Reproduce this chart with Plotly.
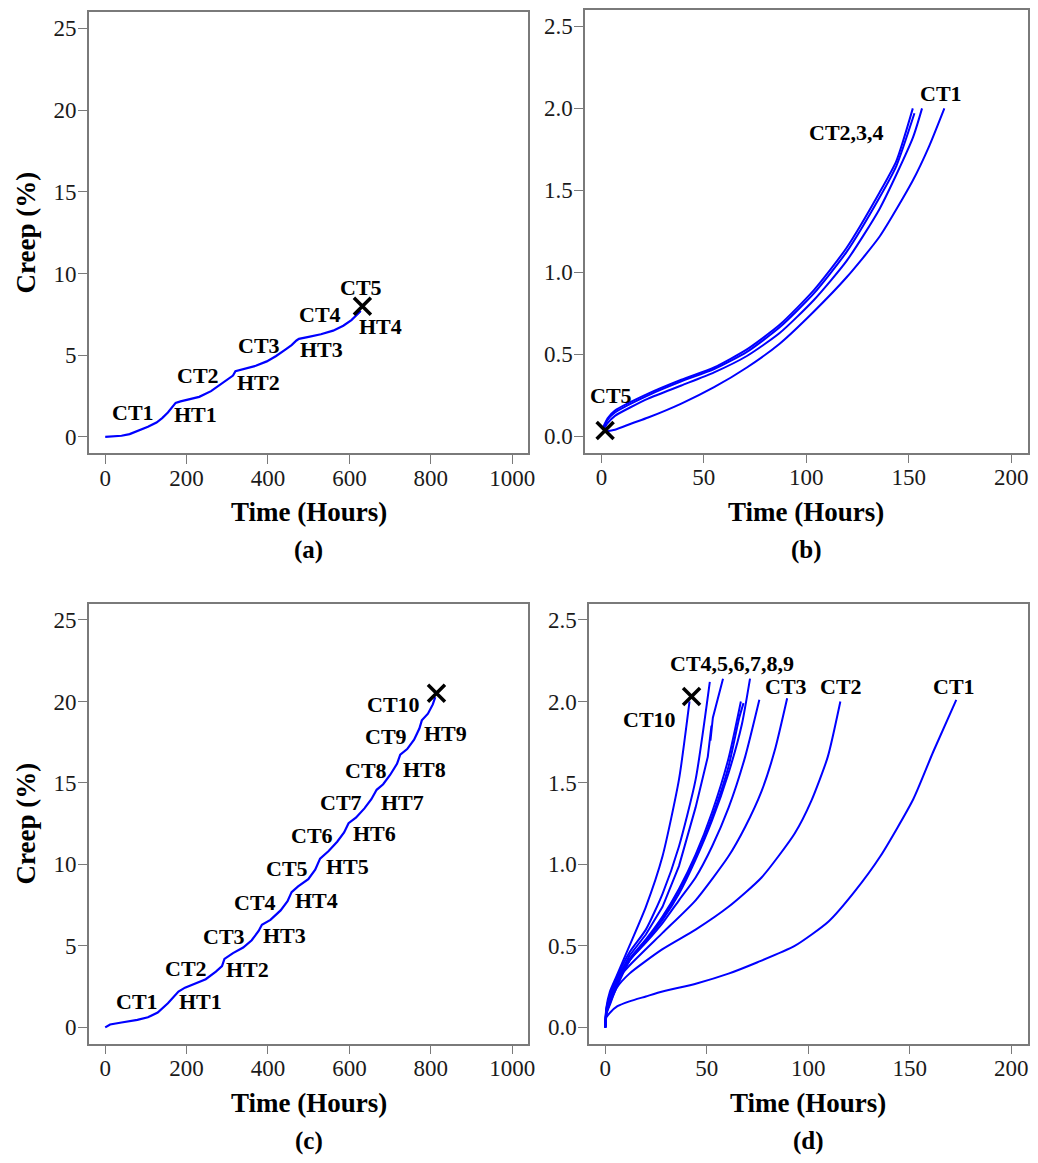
import plotly.graph_objects as go

# ---------------- data ----------------
# Panel (a): interrupted creep with heat treatments (one line)
A_TIME = [0, 20, 40, 60, 85, 105, 126, 140, 154, 166, 173, 185, 200, 231, 260, 285, 305, 314, 320,
          345, 370, 397, 420, 440, 458, 470, 476, 500, 530, 560, 585, 605, 618, 628]
A_CREEP = [0, 0.02, 0.07, 0.17, 0.41, 0.62, 0.88, 1.15, 1.49, 1.85, 2.08, 2.17, 2.26, 2.45, 2.8, 3.25,
           3.6, 3.75, 4.02, 4.2, 4.35, 4.62, 4.95, 5.3, 5.62, 5.9, 6.0, 6.12, 6.28, 6.5, 6.8, 7.15, 7.45, 7.7]
A_FAIL = (632, 8.0)
A_LABELS = ["CT1", "HT1", "CT2", "HT2", "CT3", "HT3", "CT4", "HT4", "CT5"]
A_LABEL_POS = [(69, 1.5), (223, 1.4), (228, 3.75), (377, 3.35), (377, 5.6), (532, 5.35),
               (528, 7.5), (677, 6.75), (628, 9.15)]

# Panel (b): individual creep tests of (a)
B_CT1_T = [1.8, 6.6, 15, 22.8, 39, 55, 71, 87, 103.6, 119.7, 135.9, 152, 160, 167.4]
B_CT1_C = [0.03, 0.04, 0.08, 0.115, 0.2, 0.3, 0.42, 0.565, 0.76, 0.97, 1.22, 1.56, 1.77, 2.0]
B_CT2_T = [1, 3, 6.6, 22.8, 39, 55, 71, 87, 103.6, 119.7, 135.9, 144, 152]
B_CT2_C = [0.06, 0.11, 0.157, 0.26, 0.345, 0.42, 0.53, 0.68, 0.89, 1.15, 1.49, 1.68, 2.0]
B_CT3_T = [1, 3, 6.6, 22.8, 39, 55, 71, 87, 103.6, 119.7, 135.9, 144, 152.8]
B_CT3_C = [0.05, 0.1, 0.145, 0.25, 0.335, 0.41, 0.515, 0.665, 0.87, 1.125, 1.46, 1.65, 1.97]
B_CT4_T = [1, 3, 6.6, 22.8, 39, 55, 71, 87, 103.6, 119.7, 135.9, 152, 156.5]
B_CT4_C = [0.04, 0.08, 0.125, 0.23, 0.31, 0.39, 0.49, 0.63, 0.83, 1.07, 1.39, 1.82, 2.0]
B_FAIL = (1.8, 0.035)
B_LABELS = ["CT1", "CT2,3,4", "CT5"]
B_LABEL_POS = [(166, 2.09), (119.7, 1.85), (4.7, 0.25)]

# Panel (c): interrupted creep, second specimen
C_TIME = [0, 12, 40, 79, 105, 129, 154, 170, 180, 196, 213, 247, 272, 287, 293, 314, 339, 360, 377,
          385, 406, 431, 448, 458, 474, 499, 516, 528, 549, 570, 587, 598, 616, 637, 654, 667, 683,
          700, 717, 725, 742, 759, 772, 778, 793, 805, 811]
C_CREEP = [0, 0.18, 0.3, 0.46, 0.62, 0.91, 1.48, 1.9, 2.2, 2.44, 2.62, 2.96, 3.42, 3.76, 4.2, 4.56,
           4.9, 5.35, 5.92, 6.3, 6.6, 7.18, 7.74, 8.3, 8.65, 9.1, 9.68, 10.36, 10.82, 11.39, 11.96,
           12.53, 12.87, 13.44, 14.0, 14.58, 14.92, 15.49, 16.17, 16.74, 17.08, 17.65, 18.34, 18.84,
           19.25, 19.82, 20.27]
C_FAIL = (814, 20.5)
C_LABELS = ["CT1", "HT1", "CT2", "HT2", "CT3", "HT3", "CT4", "HT4", "CT5", "HT5",
            "CT6", "HT6", "CT7", "HT7", "CT8", "HT8", "CT9", "HT9", "CT10"]
C_LABEL_POS = [(79, 1.59), (234, 1.59), (199, 3.64), (349, 3.58), (293, 5.58), (440, 5.65),
               (369, 7.68), (520, 7.81), (446, 9.73), (595, 9.86), (509, 11.78), (661, 11.89),
               (579, 13.83), (730, 13.83), (640, 15.79), (784, 15.83), (690, 17.88), (835, 18.06),
               (709, 19.8)]

# Panel (d): individual creep tests of (c)
D_SERIES = {
    "CT1": ([0, 0.5, 2.3, 6, 11.9, 20, 28.2, 45, 60.7, 75, 93.3, 110, 122.6, 135.5, 151.7, 161.5, 172.9],
            [0, 0.06, 0.09, 0.13, 0.16, 0.19, 0.22, 0.27, 0.33, 0.40, 0.50, 0.65, 0.83, 1.05, 1.40, 1.69, 2.01]),
    "CT2": ([0, 0.5, 2.3, 5.5, 11.9, 28.2, 44.5, 60.7, 77, 93.3, 101.5, 109.6, 115.8],
            [0, 0.08, 0.14, 0.24, 0.33, 0.48, 0.60, 0.74, 0.92, 1.19, 1.39, 1.66, 2.0]),
    "CT3": ([0, 0.5, 2.3, 5, 11.9, 28.2, 44.5, 60.7, 68.9, 77, 83.5, 89.6],
            [0, 0.1, 0.18, 0.28, 0.38, 0.58, 0.78, 1.05, 1.23, 1.45, 1.70, 2.02]),
    "CT4": ([0, 0.5, 2.3, 5.4, 11.9, 20, 28.2, 36.3, 44.5, 51.5],
            [0, 0.11, 0.2, 0.3, 0.46, 0.6, 0.82, 1.11, 1.52, 2.12]),
    "CT5": ([0, 0.5, 2.3, 5.4, 11.9, 20, 28.2, 36.3, 44.5, 50.5, 52.3, 51.8, 53, 55.5, 58],
            [0, 0.1, 0.19, 0.29, 0.44, 0.57, 0.74, 0.99, 1.35, 1.66, 1.85, 1.76, 1.90, 2.02, 2.14]),
    "CT6": ([0, 0.5, 2.3, 5.4, 11.9, 20, 28.2, 36.3, 44.5, 52.6, 60.7, 66.8],
            [0, 0.09, 0.18, 0.27, 0.42, 0.54, 0.68, 0.85, 1.06, 1.32, 1.65, 2.0]),
    "CT7": ([0, 0.5, 2.3, 5.4, 11.9, 20, 28.2, 36.3, 44.5, 52.6, 60.7, 66, 68.1],
            [0, 0.09, 0.17, 0.26, 0.41, 0.53, 0.67, 0.84, 1.04, 1.29, 1.60, 1.9, 1.99]),
    "CT8": ([0, 0.5, 2.3, 5.4, 11.9, 20, 28.2, 36.3, 44.5, 52.6, 60.7, 67.3, 71.3],
            [0, 0.09, 0.17, 0.26, 0.41, 0.53, 0.66, 0.82, 1.03, 1.27, 1.56, 1.86, 2.14]),
    "CT9": ([0, 0.5, 2.3, 5.4, 11.9, 20, 28.2, 36.3, 44.5, 52.6, 60.8, 68.9, 75.9],
            [0, 0.08, 0.15, 0.24, 0.41, 0.52, 0.64, 0.78, 0.92, 1.11, 1.35, 1.66, 2.01]),
    "CT10": ([0, 0.5, 2.3, 5.4, 11.9, 20, 28.2, 36.3, 41.5],
             [0, 0.12, 0.22, 0.31, 0.5, 0.74, 1.05, 1.52, 2.0]),
}
D_FAIL = (42.5, 2.03)
D_LABELS = ["CT4,5,6,7,8,9", "CT3", "CT2", "CT1", "CT10"]
D_LABEL_POS = [(62.4, 2.23), (88.8, 2.09), (116, 2.09), (171.6, 2.09), (21.7, 1.89)]

A_XTICKS = [0, 200, 400, 600, 800, 1000]
A_YTICKS = [0, 5, 10, 15, 20, 25]
B_XTICKS = [0, 50, 100, 150, 200]
B_YTICKS = [0.0, 0.5, 1.0, 1.5, 2.0, 2.5]
PANEL_TAGS = ["(a)", "(b)", "(c)", "(d)"]

# ---------------- figure ----------------
OFF = 8                      # page body margin
W, H = 1038 - OFF, 1163 - OFF
FONT = "Liberation Serif"
BLUE = "#0000ff"


def clamp(v):
    return min(1.0, max(0.0, v))


def px_x(p):
    return clamp((p - OFF) / W)


def px_y(p):
    return clamp(1 - (p - OFF) / H)


fig = go.Figure()

# panel pixel boxes in screenshot coords: (left, right, top, bottom)
boxes = {
    "a": (89.5, 532, 10, 452),
    "b": (589, 1034.5, 8, 451.5),
    "c": (89.5, 532, 602.7, 1043.5),
    "d": (593, 1034.5, 602.7, 1043.5),
}
axis_ids = {"a": ("x", "y"), "b": ("x2", "y2"), "c": ("x3", "y3"), "d": ("x4", "y4")}


def line(xs, ys, panel, width=2.2, shape="linear"):
    xa, ya = axis_ids[panel]
    fig.add_trace(go.Scatter(x=xs, y=ys, mode="lines", xaxis=xa, yaxis=ya,
                             line=dict(color=BLUE, width=width, shape=shape, smoothing=0.6),
                             showlegend=False, hoverinfo="skip"))


def fail(pt, panel):
    xa, ya = axis_ids[panel]
    fig.add_trace(go.Scatter(x=[pt[0]], y=[pt[1]], mode="markers", xaxis=xa, yaxis=ya,
                             marker=dict(symbol="x-thin", size=17,
                                         line=dict(color="black", width=3.5)),
                             showlegend=False, hoverinfo="skip"))


line(A_TIME, A_CREEP, "a")
fail(A_FAIL, "a")
for t, c in [(B_CT1_T, B_CT1_C), (B_CT2_T, B_CT2_C), (B_CT3_T, B_CT3_C), (B_CT4_T, B_CT4_C)]:
    line(t, c, "b", 2, "spline")
fail(B_FAIL, "b")
line(C_TIME, C_CREEP, "c")
fail(C_FAIL, "c")
for name, (t, c) in D_SERIES.items():
    line(t, c, "d", 2, "linear" if name == "CT5" else "spline")
fail(D_FAIL, "d")

annotations = []


def label(text, pos, panel, size=22):
    xa, ya = axis_ids[panel]
    annotations.append(dict(x=pos[0], y=pos[1], xref=xa, yref=ya, text=text, showarrow=False,
                            xanchor="center", yanchor="middle",
                            font=dict(family=FONT, size=size, color="black", weight="bold")))


for txt, pos in zip(A_LABELS, A_LABEL_POS):
    label(txt, pos, "a")
for txt, pos in zip(B_LABELS, B_LABEL_POS):
    label(txt, pos, "b")
for txt, pos in zip(C_LABELS, C_LABEL_POS):
    label(txt, pos, "c")
for txt, pos in zip(D_LABELS, D_LABEL_POS):
    label(txt, pos, "d")

# axis titles and panel tags (paper coords)
for key, tag in zip(["a", "b", "c", "d"], PANEL_TAGS):
    l, r, t, b = boxes[key]
    cx = (l + r) / 2
    annotations.append(dict(x=px_x(cx), y=px_y(b + 59), xref="paper", yref="paper",
                            xanchor="center", yanchor="middle",
                            text="Time (Hours)", showarrow=False,
                            font=dict(family=FONT, size=27, color="black", weight="bold")))
    annotations.append(dict(x=px_x(cx), y=px_y(b + 97), xref="paper", yref="paper",
                            xanchor="center", yanchor="middle",
                            text=tag, showarrow=False,
                            font=dict(family=FONT, size=25, color="black", weight="bold")))
for key in ["a", "c"]:
    l, r, t, b = boxes[key]
    annotations.append(dict(x=px_x(26), y=px_y((t + b) / 2), xref="paper", yref="paper",
                            xanchor="center", yanchor="middle",
                            text="Creep (%)", showarrow=False, textangle=-90,
                            font=dict(family=FONT, size=27, color="black", weight="bold")))

axis_common = dict(showline=True, mirror=True, linecolor="#7a7a7a", linewidth=1.5,
                   ticks="outside", ticklen=9, tickcolor="#7a7a7a", tickwidth=1.2,
                   showgrid=False, zeroline=False,
                   tickfont=dict(family=FONT, size=23, color="#1a1a1a"))

layout = dict(width=W, height=H, margin=dict(l=0, r=0, t=0, b=0),
              paper_bgcolor="white", plot_bgcolor="white", annotations=annotations)

ranges = {
    "a": ([-40, 1040], [-1, 26], A_XTICKS, A_YTICKS, None),
    "b": ([-8, 208], [-0.1, 2.6], B_XTICKS, B_YTICKS, ".1f"),
    "c": ([-40, 1040], [-1, 26], A_XTICKS, A_YTICKS, None),
    "d": ([-8, 208], [-0.1, 2.6], B_XTICKS, B_YTICKS, ".1f"),
}
for i, key in enumerate(["a", "b", "c", "d"]):
    l, r, t, b = boxes[key]
    xr, yr, xt, yt, fmt = ranges[key]
    xname = "xaxis" if i == 0 else f"xaxis{i + 1}"
    yname = "yaxis" if i == 0 else f"yaxis{i + 1}"
    xa, ya = axis_ids[key]
    layout[xname] = dict(domain=[px_x(l), px_x(r)], range=xr, tickvals=xt, anchor=ya,
                         ticklabelstandoff=-6, **axis_common)
    ydict = dict(domain=[px_y(b), px_y(t)], range=yr, tickvals=yt, anchor=xa,
                 ticklabelstandoff=-3, **axis_common)
    if fmt:
        ydict["tickformat"] = fmt
    layout[yname] = ydict

fig.update_layout(**layout)
fig.write_html("out.html")
